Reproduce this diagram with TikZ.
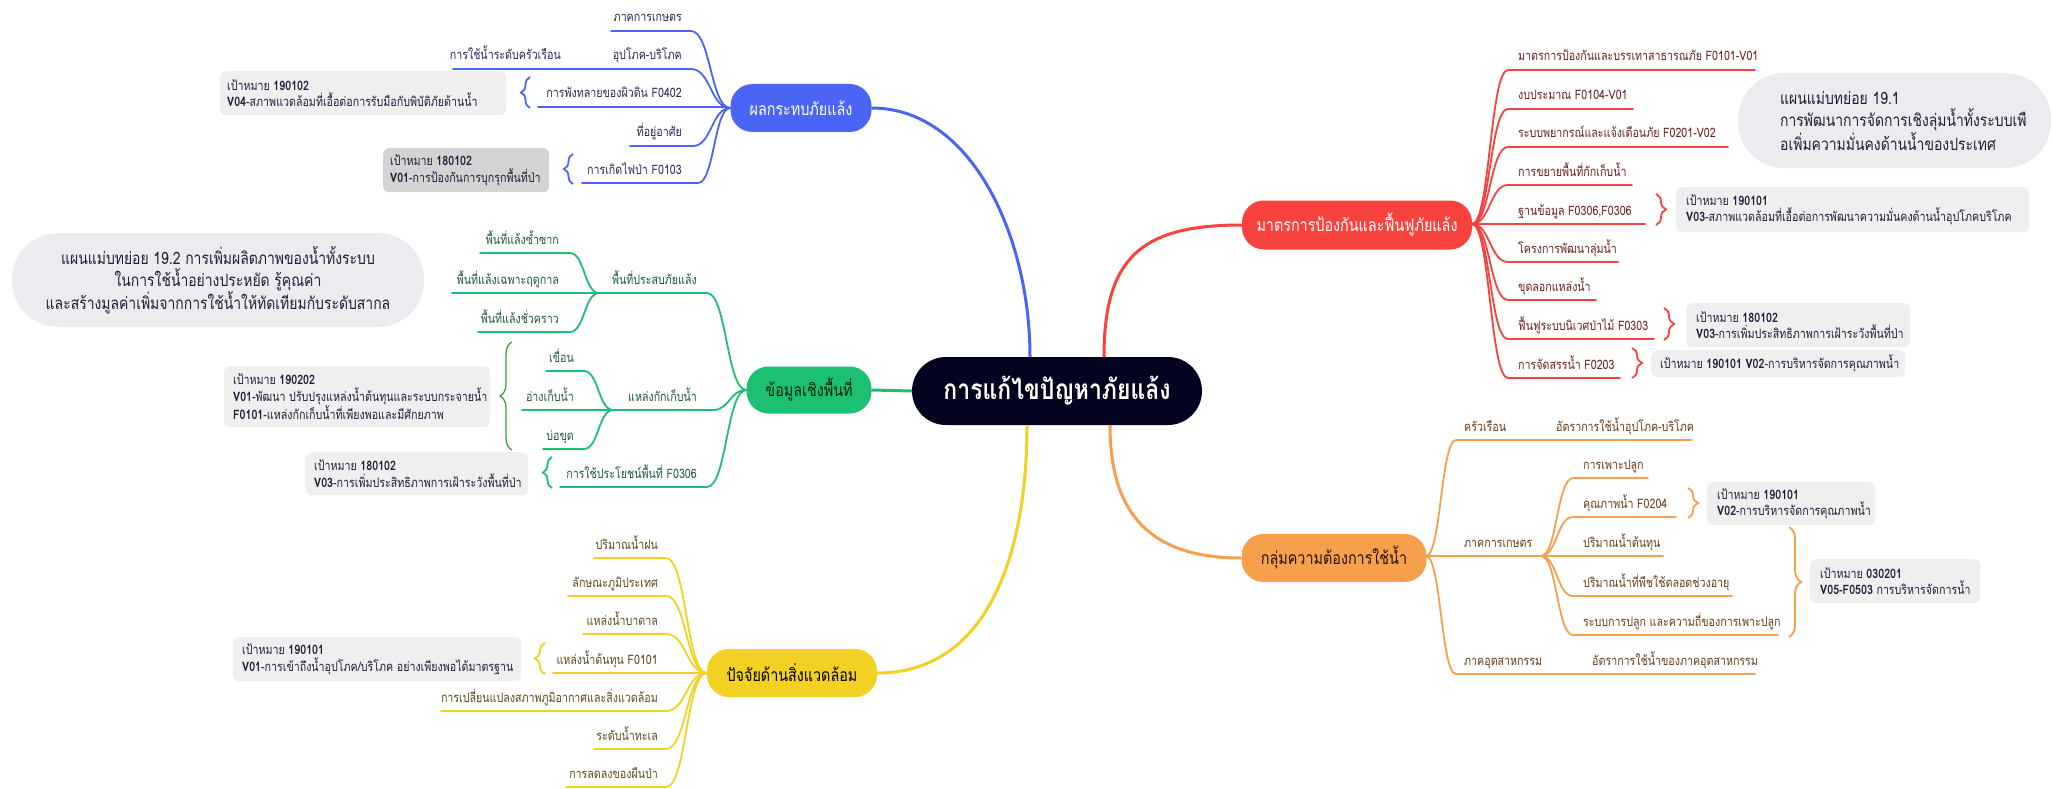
\documentclass[tikz,border=0pt]{standalone}
\usepackage{fontspec}
\setmainfont[Script=Thai, FakeStretch=0.82]{Loma}
\usetikzlibrary{calc,decorations.pathreplacing}
\definecolor{cblue}{HTML}{4A64F5}
\definecolor{cred}{HTML}{F8423D}
\definecolor{cgreen}{HTML}{1DBF73}
\definecolor{cdgreen}{HTML}{3AA63A}
\definecolor{cyellow}{HTML}{F2D122}
\definecolor{corange}{HTML}{F6A04D}
\definecolor{ccentral}{HTML}{03021F}
\definecolor{tblue}{HTML}{26285A}
\definecolor{tred}{HTML}{6E1E1E}
\definecolor{tgreen}{HTML}{1A5A3A}
\definecolor{tyellow}{HTML}{5A4A14}
\definecolor{torange}{HTML}{6A3C14}
\definecolor{boxg}{HTML}{EFEFEF}
\definecolor{boxd}{HTML}{D3D3D3}
\definecolor{planb}{HTML}{ECEBEF}
\definecolor{boxt}{HTML}{1F1F3A}
\newcommand\kidf{\fontsize{13}{15}\selectfont}
\newcommand\boxf{\fontsize{13}{16.5}\selectfont}
\newcommand\mainf{\fontsize{17.5}{20}\selectfont}
\newcommand\planf{\fontsize{17}{22}\selectfont}
\newcommand\cenf{\fontsize{28}{32}\selectfont\bfseries}
\tikzset{
 kid/.style={inner sep=0pt, font=\kidf},
 br/.style={line width=1.8pt, line cap=round},
 trunk/.style={line width=3pt},
 mainnode/.style={rounded corners=22pt, inner sep=0pt, font=\mainf},
 gbox/.style={fill=boxg, rounded corners=6pt, inner sep=0pt, anchor=north west},
 btxt/.style={inner sep=0pt, align=left, font=\boxf, text=boxt, anchor=west},
 brk/.style={line width=1.8pt, decorate, decoration={brace, amplitude=#1}},
 plan/.style={fill=planb, inner sep=0pt},
 ptxt/.style={inner sep=0pt, font=\planf, text=boxt},
}
% left child: name, hub, xR, xL, y, xText, text
\newcommand\LK[7]{%
 \coordinate (#1r) at (#3,#5);
 \coordinate (#1l) at (#4,#5);
 \node[kid,anchor=base east] (#1) at (#6,#5-9) {#7};
 \path ($(#2)!0.5!(#1r)$) coordinate (m);
 \draw[br] (#2) .. controls (m |- #2) and (m |- #1r) .. (#1r) -- (#1l);}
% right child: name, hub, xL, xR, y, xText, text
\newcommand\RK[7]{%
 \coordinate (#1l) at (#3,#5);
 \coordinate (#1r) at (#4,#5);
 \node[kid,anchor=base west] (#1) at (#6,#5-9) {#7};
 \path ($(#2)!0.5!(#1l)$) coordinate (m);
 \draw[br] (#2) .. controls (m |- #2) and (m |- #1l) .. (#1l) -- (#1r);}
\begin{document}
\begin{tikzpicture}[x=1pt,y=-1pt]
\useasboundingbox (0,0) rectangle (2053,789);
\fill[white] (0,0) rectangle (2053,789);

% central and main nodes
\node[fill=ccentral, text=white, rounded corners=34pt, minimum width=290pt, minimum height=68pt, inner sep=0pt, font=\cenf] (c) at (1057,391) {การแก้ไขปัญหาภัยแล้ง};
\node[mainnode, fill=cblue, text=white, minimum width=141pt, minimum height=48pt] (blue) at (801,108) {ผลกระทบภัยแล้ง};
\node[mainnode, fill=cred, text=white, minimum width=230pt, minimum height=49pt] (red) at (1357,225) {มาตรการป้องกันและฟื้นฟูภัยแล้ง};
\node[mainnode, fill=cgreen, text=black!85!green, minimum width=125pt, minimum height=47pt] (green) at (809,390) {ข้อมูลเชิงพื้นที่};
\node[mainnode, fill=cyellow, text=black, minimum width=170pt, minimum height=48pt] (yellow) at (792,673) {ปัจจัยด้านสิ่งแวดล้อม};
\node[mainnode, fill=corange, text=black!85!orange, minimum width=185pt, minimum height=48pt] (orange) at (1334,558) {กลุ่มความต้องการใช้น้ำ};

% trunks
\draw[trunk, cblue] (blue.east) .. controls +(100,0) and +(0,-120) .. ([xshift=-27pt]c.north);
\draw[trunk, cred] (red.west) .. controls +(-100,0) and +(0,-100) .. ([xshift=47pt]c.north);
\draw[trunk, cyellow] (yellow.east) .. controls +(110,0) and +(0,130) .. ([xshift=-30pt]c.south);
\draw[trunk, corange] ([xshift=53pt]c.south) .. controls +(0,90) and +(-90,0) .. (orange.west);
\draw[trunk, cgreen] (green.east) -- (c.west);

% plan boxes
\node[plan, rounded corners=46pt, minimum width=412pt, minimum height=94pt] (plan2) at (218,280) {};
\node[ptxt, align=center] (plan2t) at (plan2.center) {แผนแม่บทย่อย 19.2 การเพิ่มผลิตภาพของน้ำทั้งระบบ\\ในการใช้น้ำอย่างประหยัด รู้คุณค่า\\และสร้างมูลค่าเพิ่มจากการใช้น้ำให้ทัดเทียมกับระดับสากล};
\node[plan, rounded corners=46pt, minimum width=313pt, minimum height=95pt] (plan1) at (1894.5,120.5) {};
\node[ptxt, align=left, anchor=west] (plan1t) at (1780,121) {แผนแม่บทย่อย 19.1\\การพัฒนาการจัดการเชิงลุ่มน้ำทั้งระบบเพื\\อเพิ่มความมั่นคงด้านน้ำของประเทศ};

% ===== BLUE =====
\begin{scope}[kid/.append style={text=tblue}, br/.append style={draw=cblue}]
\LK{b1}{blue.west}{691}{611}{31}{682}{ภาคการเกษตร}
\LK{b2}{blue.west}{691}{453}{69}{682}{อุปโภค-บริโภค}
\node[kid, anchor=base east] (b2a) at (561,60) {การใช้น้ำระดับครัวเรือน};
\LK{b3}{blue.west}{724}{538}{107}{682}{การพังทลายของผิวดิน F0402}
\LK{b4}{blue.west}{693}{630}{146}{682}{ที่อยู่อาศัย}
\LK{b5}{blue.west}{698}{582}{183}{682}{การเกิดไฟป่า F0103}
\draw[brk=9pt, cblue] (530,108) -- (530,77);
\draw[brk=9pt, cblue] (573,184) -- (573,154);
\end{scope}
\node[gbox, minimum width=286pt, minimum height=44pt] (bx1) at (220,71) {};
\node[btxt] (bx1t) at ([xshift=7pt]bx1.west) {เป้าหมาย \textbf{190102}\\\textbf{V04}-สภาพแวดล้อมที่เอื้อต่อการรับมือกับพิบัติภัยด้านน้ำ};
\node[gbox, fill=boxd, minimum width=166pt, minimum height=44pt] (bx2) at (383,148) {};
\node[btxt] (bx2t) at ([xshift=7pt]bx2.west) {เป้าหมาย \textbf{180102}\\\textbf{V01}-การป้องกันการบุกรุกพื้นที่ป่า};

% ===== GREEN =====
\begin{scope}[kid/.append style={text=tgreen}, br/.append style={draw=cgreen}]
\LK{g1}{green.west}{707}{599}{293}{697}{พื้นที่ประสบภัยแล้ง}
\coordinate (gh1) at (599,293);
\LK{g1a}{gh1}{570}{480}{253}{559}{พื้นที่แล้งซ้ำซาก}
\LK{g1b}{gh1}{599}{452}{293}{559}{พื้นที่แล้งเฉพาะฤดูกาล}
\LK{g1c}{gh1}{570}{478}{332}{559}{พื้นที่แล้งชั่วคราว}
\LK{g2}{green.west}{713}{613}{410}{697}{แหล่งกักเก็บน้ำ}
\coordinate (gh2) at (613,410);
\LK{g2a}{gh2}{584}{546}{371}{574}{เขื่อน}
\LK{g2b}{gh2}{613}{522}{410}{574}{อ่างเก็บน้ำ}
\LK{g2c}{gh2}{584}{543}{449}{574}{บ่อขุด}
\LK{g3}{green.west}{707}{560}{487}{697}{การใช้ประโยชน์พื้นที่ F0306}
\draw[brk=12pt, cdgreen, line width=1.3pt] (512,450) -- (512,342);
\draw[brk=9pt, cgreen] (552,488) -- (552,457);
\end{scope}
\node[gbox, minimum width=266pt, minimum height=61pt] (gx1) at (224,366) {};
\node[btxt] (gx1t) at ([xshift=9pt]gx1.west) {เป้าหมาย \textbf{190202}\\\textbf{V01}-พัฒนา ปรับปรุงแหล่งน้ำต้นทุนและระบบกระจายน้ำ\\\textbf{F0101}-แหล่งกักเก็บน้ำที่เพียงพอและมีศักยภาพ};
\node[gbox, minimum width=223pt, minimum height=43pt] (gx2) at (305,452) {};
\node[btxt] (gx2t) at ([xshift=9pt]gx2.west) {เป้าหมาย \textbf{180102}\\\textbf{V03}-การเพิ่มประสิทธิภาพการเฝ้าระวังพื้นที่ป่า};

% ===== YELLOW =====
\begin{scope}[kid/.append style={text=tyellow}, br/.append style={draw=cyellow}]
\LK{y1}{yellow.west}{666}{594}{558}{658}{ปริมาณน้ำฝน}
\LK{y2}{yellow.west}{666}{568}{596}{658}{ลักษณะภูมิประเทศ}
\LK{y3}{yellow.west}{666}{583}{634}{658}{แหล่งน้ำบาดาล}
\LK{y4}{yellow.west}{704}{553}{673}{658}{แหล่งน้ำต้นทุน F0101}
\LK{y5}{yellow.west}{666}{441}{711}{658}{การเปลี่ยนแปลงสภาพภูมิอากาศและสิ่งแวดล้อม}
\LK{y6}{yellow.west}{666}{594}{749}{658}{ระดับน้ำทะเล}
\LK{y7}{yellow.west}{666}{566}{787}{658}{การลดลงของผืนป่า}
\draw[brk=10pt, cyellow] (545,674) -- (545,643);
\end{scope}
\node[gbox, minimum width=288pt, minimum height=44pt] (yx1) at (233,637) {};
\node[btxt] (yx1t) at ([xshift=9pt]yx1.west) {เป้าหมาย \textbf{190101}\\\textbf{V01}-การเข้าถึงน้ำอุปโภค/บริโภค อย่างเพียงพอได้มาตรฐาน};

% ===== RED =====
\coordinate (rh) at (1472,224);
\begin{scope}[kid/.append style={text=tred}, br/.append style={draw=cred}]
\RK{r1}{rh}{1508}{1755}{70}{1518}{มาตรการป้องกันและบรรเทาสาธารณภัย F0101-V01}
\RK{r2}{rh}{1508}{1633}{109}{1518}{งบประมาณ F0104-V01}
\RK{r3}{rh}{1508}{1728}{147}{1518}{ระบบพยากรณ์และแจ้งเตือนภัย F0201-V02}
\RK{r4}{rh}{1508}{1632}{185}{1518}{การขยายพื้นที่กักเก็บน้ำ}
\RK{r5}{rh}{1500}{1645}{224}{1518}{ฐานข้อมูล F0306,F0306}
\RK{r6}{rh}{1508}{1618}{262}{1518}{โครงการพัฒนาลุ่มน้ำ}
\RK{r7}{rh}{1508}{1596}{300}{1518}{ขุดลอกแหล่งน้ำ}
\RK{r8}{rh}{1508}{1654}{339}{1518}{ฟื้นฟูระบบนิเวศป่าไม้ F0303}
\RK{r9}{rh}{1508}{1620}{378}{1518}{การจัดสรรน้ำ F0203}
\draw[brk=10pt, cred] (1656,194) -- (1656,225);
\draw[brk=10pt, cred] (1664,308) -- (1664,340);
\draw[brk=10pt, cred] (1632,348) -- (1632,378);
\end{scope}
\node[gbox, minimum width=353pt, minimum height=45pt] (rx1) at (1676,187) {};
\node[btxt] (rx1t) at ([xshift=10pt]rx1.west) {เป้าหมาย \textbf{190101}\\\textbf{V03}-สภาพแวดล้อมที่เอื้อต่อการพัฒนาความมั่นคงด้านน้ำอุปโภคบริโภค};
\node[gbox, minimum width=224pt, minimum height=44pt] (rx2) at (1686,303) {};
\node[btxt] (rx2t) at ([xshift=10pt]rx2.west) {เป้าหมาย \textbf{180102}\\\textbf{V03}-การเพิ่มประสิทธิภาพการเฝ้าระวังพื้นที่ป่า};
\node[gbox, minimum width=254pt, minimum height=27pt] (rx3) at (1651,350) {};
\node[btxt] (rx3t) at ([xshift=9pt]rx3.west) {เป้าหมาย \textbf{190101 V02}-การบริหารจัดการคุณภาพน้ำ};

% ===== ORANGE =====
\coordinate (oh) at (1426,556);
\begin{scope}[kid/.append style={text=torange}, br/.append style={draw=corange}]
\RK{o1}{oh}{1456}{1692}{440}{1464}{ครัวเรือน}
\node[kid, anchor=base west] (o1a) at (1556,431) {อัตราการใช้น้ำอุปโภค-บริโภค};
\RK{o2}{oh}{1456}{1541}{556}{1464}{ภาคการเกษตร}
\coordinate (oh2) at (1541,556);
\RK{o2a}{oh2}{1573}{1648}{478}{1583}{การเพาะปลูก}
\RK{o2b}{oh2}{1573}{1676}{517}{1583}{คุณภาพน้ำ F0204}
\RK{o2c}{oh2}{1573}{1663}{556}{1583}{ปริมาณน้ำต้นทุน}
\RK{o2d}{oh2}{1573}{1732}{596}{1583}{ปริมาณน้ำที่พืชใช้ตลอดช่วงอายุ}
\RK{o2e}{oh2}{1573}{1778}{635}{1583}{ระบบการปลูก และความถี่ของการเพาะปลูก}
\RK{o3}{oh}{1456}{1755}{674}{1464}{ภาคอุตสาหกรรม}
\node[kid, anchor=base west] (o3a) at (1592,665) {อัตราการใช้น้ำของภาคอุตสาหกรรม};
\draw[brk=10pt, corange] (1688,488) -- (1688,518);
\draw[brk=12pt, corange] (1789,527) -- (1789,637);
\end{scope}
\node[gbox, minimum width=168pt, minimum height=43pt] (ox1) at (1707,482) {};
\node[btxt] (ox1t) at ([xshift=10pt]ox1.west) {เป้าหมาย \textbf{190101}\\\textbf{V02}-การบริหารจัดการคุณภาพน้ำ};
\node[gbox, minimum width=170pt, minimum height=44pt] (ox2) at (1810,559) {};
\node[btxt] (ox2t) at ([xshift=10pt]ox2.west) {เป้าหมาย \textbf{030201}\\\textbf{V05-F0503} การบริหารจัดการน้ำ};
\end{tikzpicture}
\end{document}
